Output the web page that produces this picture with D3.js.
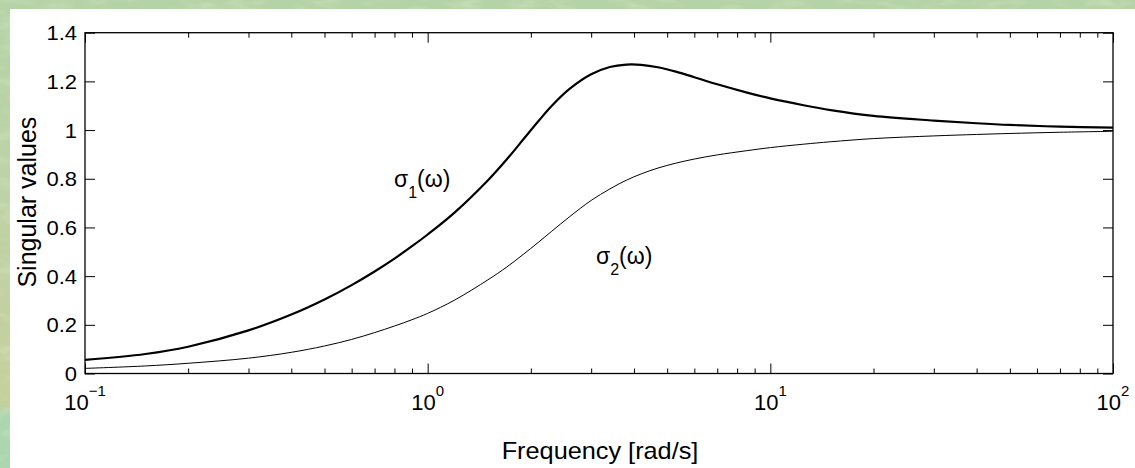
<!DOCTYPE html>
<html>
<head>
<meta charset="utf-8">
<script src="https://cdn.jsdelivr.net/npm/d3@7"></script>
<style>
    html, body { margin: 0; padding: 0; background: #bdd4a9; }
    svg { display: block; }
    text { font-family: "Liberation Sans", Arial, Helvetica, sans-serif; fill: #000; }
</style>
</head>
<body>
<svg id="chart" width="1135" height="468"></svg>
<script>
// frequency grid [rad/s] and the two singular values
const omega  = [0.1, 0.15, 0.2, 0.3, 0.4, 0.5, 0.6, 0.7, 0.8, 0.9, 1, 1.2, 1.5, 1.7, 1.9, 2.1, 2.3, 2.6, 3, 3.4, 3.8, 4.2, 4.7, 5.3, 6, 7, 8.5, 10, 12.5, 15, 20, 30, 40, 50, 70, 100];
const sigma1 = [0.056, 0.080, 0.110, 0.177, 0.242, 0.304, 0.363, 0.419, 0.472, 0.523, 0.571, 0.662, 0.794, 0.879, 0.961, 1.035, 1.099, 1.170, 1.229, 1.259, 1.269, 1.268, 1.258, 1.240, 1.217, 1.188, 1.155, 1.130, 1.102, 1.082, 1.058, 1.039, 1.028, 1.021, 1.014, 1.010];
const sigma2 = [0.021, 0.031, 0.042, 0.063, 0.087, 0.113, 0.140, 0.168, 0.195, 0.221, 0.247, 0.302, 0.385, 0.437, 0.489, 0.538, 0.584, 0.645, 0.711, 0.758, 0.794, 0.820, 0.844, 0.864, 0.881, 0.898, 0.915, 0.928, 0.942, 0.952, 0.965, 0.976, 0.982, 0.986, 0.991, 0.995];

const yTicks = [0, 0.2, 0.4, 0.6, 0.8, 1, 1.2, 1.4];
const yTickLabels = ["0", "0.2", "0.4", "0.6", "0.8", "1", "1.2", "1.4"];
const xDecades = [0.1, 1, 10, 100];
const xDecadeExponents = ["\u22121", "0", "1", "2"];
const xTitle = "Frequency [rad/s]";
const yTitle = "Singular values";

const W = 1135, H = 468;
const plot = { left: 85, right: 1113, top: 32.7, bottom: 373.5 };

const svg = d3.select("#chart");

// --- green textured backdrop + white panel
const defs = svg.append("defs");
const grad = defs.append("linearGradient")
    .attr("id", "bg").attr("x1", 0).attr("y1", 0).attr("x2", 0).attr("y2", 1);
[["0%", "#b4d3a6"], ["35%", "#bcd3a7"], ["65%", "#c2d1a1"], ["86%", "#c6cf9c"], ["89%", "#acd6ae"], ["100%", "#aad5ae"]]
    .forEach(([o, c]) => grad.append("stop").attr("offset", o).attr("stop-color", c));

const noise = defs.append("filter").attr("id", "marble")
    .attr("x", 0).attr("y", 0).attr("width", "100%").attr("height", "100%");
noise.append("feTurbulence")
    .attr("type", "fractalNoise").attr("baseFrequency", "0.035 0.09")
    .attr("numOctaves", 3).attr("seed", 7);
noise.append("feColorMatrix").attr("type", "matrix")
    .attr("values", "0 0 0 0 0.93  0 0 0 0 0.96  0 0 0 0 0.84  1.6 0 0 0 -0.75");

svg.append("rect").attr("width", W).attr("height", H).attr("fill", "url(#bg)");
svg.append("rect").attr("width", W).attr("height", H).attr("filter", "url(#marble)").attr("opacity", 0.35);
svg.append("rect").attr("x", 10).attr("y", 9).attr("width", W - 10).attr("height", H - 9).attr("fill", "#fff");

// --- scales
const x = d3.scaleLog().domain([0.1, 100]).range([plot.left, plot.right]);
const y = d3.scaleLinear().domain([0, 1.4]).range([plot.bottom, plot.top]);

const minorTicks = x.ticks().filter(v => !xDecades.some(d => Math.abs(d - v) < 1e-9));

function styleAxis(g) {
    g.select(".domain").remove();
    g.selectAll(".tick line").attr("stroke", "#000").attr("stroke-width", 1);
    g.selectAll(".tick text").remove();
}

// inward ticks on all four sides
svg.append("g").attr("transform", `translate(0,${plot.bottom})`)
    .call(d3.axisBottom(x).tickValues(minorTicks).tickSize(-5)).call(styleAxis);
svg.append("g").attr("transform", `translate(0,${plot.bottom})`)
    .call(d3.axisBottom(x).tickValues(xDecades).tickSize(-10)).call(styleAxis);
svg.append("g").attr("transform", `translate(0,${plot.top})`)
    .call(d3.axisTop(x).tickValues(minorTicks).tickSize(-5)).call(styleAxis);
svg.append("g").attr("transform", `translate(0,${plot.top})`)
    .call(d3.axisTop(x).tickValues(xDecades).tickSize(-10)).call(styleAxis);
svg.append("g").attr("transform", `translate(${plot.left},0)`)
    .call(d3.axisLeft(y).tickValues(yTicks).tickSize(-10)).call(styleAxis);
svg.append("g").attr("transform", `translate(${plot.right},0)`)
    .call(d3.axisRight(y).tickValues(yTicks).tickSize(-10)).call(styleAxis);

// frame
svg.append("rect")
    .attr("x", plot.left).attr("y", plot.top)
    .attr("width", plot.right - plot.left).attr("height", plot.bottom - plot.top)
    .attr("fill", "none").attr("stroke", "#000").attr("stroke-width", 1.3);

// --- tick labels
svg.append("g").selectAll("text")
    .data(yTicks)
    .join("text")
    .attr("transform", d => `translate(${plot.left - 8},${y(d) + 7.5}) scale(1.1,1)`)
    .attr("text-anchor", "end")
    .style("font-size", "20px")
    .text((d, i) => yTickLabels[i]);

const xl = svg.append("g").selectAll("text")
    .data(xDecades)
    .join("text")
    .attr("x", d => x(d))
    .attr("y", plot.bottom + 36)
    .attr("text-anchor", "middle")
    .style("font-size", "22px");
xl.append("tspan").text("10");
xl.append("tspan")
    .attr("dy", -14)
    .style("font-size", "15px")
    .text((d, i) => xDecadeExponents[i]);

// --- axis titles
svg.append("text")
    .attr("transform", `translate(${(plot.left + plot.right) / 2 + 1},459) scale(1.1,1)`)
    .attr("text-anchor", "middle")
    .style("font-size", "23px")
    .text(xTitle);

svg.append("text")
    .attr("transform", `translate(36,${(plot.top + plot.bottom) / 2 - 1}) rotate(-90)`)
    .attr("text-anchor", "middle")
    .style("font-size", "25px")
    .text(yTitle);

// --- curves
const line = d3.line()
    .x((d, i) => x(omega[i]))
    .y(d => y(d))
    .curve(d3.curveCatmullRom.alpha(0.5));

svg.append("path").datum(sigma1)
    .attr("fill", "none").attr("stroke", "#000").attr("stroke-width", 2.2)
    .attr("d", line);
svg.append("path").datum(sigma2)
    .attr("fill", "none").attr("stroke", "#000").attr("stroke-width", 1)
    .attr("d", line);

// --- curve labels  σ_i(ω)
function sigmaLabel(xp, yp, sub) {
    const t = svg.append("text").attr("x", xp).attr("y", yp).style("font-size", "23px");
    t.append("tspan").text("\u03c3");
    t.append("tspan").attr("dy", 11).style("font-size", "16px").text(sub);
    t.append("tspan").attr("dy", -11).text("(\u03c9)");
}
sigmaLabel(394, 187, "1");
sigmaLabel(596, 264, "2");
</script>
</body>
</html>
